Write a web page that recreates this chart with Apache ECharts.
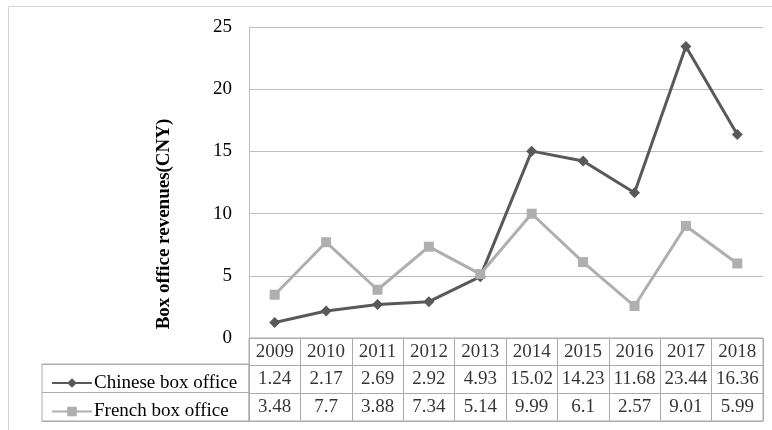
<!DOCTYPE html>
<html>
<head>
<meta charset="utf-8">
<script src="https://cdn.jsdelivr.net/npm/echarts@6/dist/echarts.min.js"></script>
<style>
html,body{margin:0;padding:0;background:#fff;}
#chart{width:772px;height:430px;}
</style>
</head>
<body>
<div id="chart"></div>
<script>
const years = ['2009','2010','2011','2012','2013','2014','2015','2016','2017','2018'];
const chineseBoxOffice = [1.24, 2.17, 2.69, 2.92, 4.93, 15.02, 14.23, 11.68, 23.44, 16.36];
const frenchBoxOffice = [3.48, 7.7, 3.88, 7.34, 5.14, 9.99, 6.1, 2.57, 9.01, 5.99];
const seriesNames = ['Chinese box office', 'French box office'];
const yTicks = {min: 0, max: 25, interval: 5};
const yTitle = 'Box office revenues(CNY)';

const FONT = 'Liberation Serif';
const TABLE_LINE = '#ababab';
const rows = ['year', 'chinese', 'french'];

const tableCells = [];
years.forEach((y, i) => {
  tableCells.push([y, 'year', y]);
  tableCells.push([y, 'chinese', String(chineseBoxOffice[i])]);
  tableCells.push([y, 'french', String(frenchBoxOffice[i])]);
});

const chart = echarts.init(document.getElementById('chart'), null, {renderer: 'canvas'});
chart.setOption({
  animation: false,
  backgroundColor: '#fff',
  textStyle: {fontFamily: FONT},
  graphic: [{
    type: 'rect', silent: true,
    shape: {x: 8.5, y: 6.5, width: 900, height: 600},
    style: {fill: 'none', stroke: '#d4d4d4', lineWidth: 1}
  }],
  grid: [
    {left: 249, top: 27, width: 514, height: 311},
    {left: 249, top: 338, width: 514, height: 83, show: true, borderColor: TABLE_LINE, borderWidth: 1},
    {left: 42, top: 364, width: 207, height: 57, show: true, borderColor: TABLE_LINE, borderWidth: 1},
    {left: 249, top: 27, width: 514, height: 394}
  ],
  xAxis: [
    {gridIndex: 0, type: 'category', data: years, boundaryGap: true,
     axisLine: {show: false}, axisTick: {show: false}, axisLabel: {show: false}, splitLine: {show: false}},
    {gridIndex: 1, type: 'category', data: years, boundaryGap: true,
     axisLine: {show: false}, axisTick: {show: false}, axisLabel: {show: false},
     splitLine: {show: true, interval: 0, lineStyle: {color: TABLE_LINE, width: 1}}},
    {gridIndex: 2, type: 'value', show: false, min: 0, max: 1},
    {gridIndex: 3, type: 'value', show: false, min: 0, max: 1}
  ],
  yAxis: [
    {gridIndex: 0, type: 'value', min: yTicks.min, max: yTicks.max, interval: yTicks.interval,
     axisLine: {show: true, lineStyle: {color: '#bdbdbd', width: 1}},
     axisTick: {show: false},
     axisLabel: {margin: 17, color: '#000', fontSize: 19, fontFamily: FONT},
     splitLine: {show: true, lineStyle: {color: '#bdbdbd', width: 1}}},
    {gridIndex: 1, type: 'category', data: rows, inverse: true,
     axisLine: {show: false}, axisTick: {show: false}, axisLabel: {show: false},
     splitLine: {show: true, interval: 0, lineStyle: {color: TABLE_LINE, width: 1}}},
    {gridIndex: 2, type: 'category', data: ['chinese', 'french'], inverse: true,
     axisLine: {show: false}, axisTick: {show: false}, axisLabel: {show: false},
     splitLine: {show: true, interval: 0, lineStyle: {color: TABLE_LINE, width: 1}}},
    {gridIndex: 3, type: 'value', min: 0, max: 1,
     axisLine: {show: false}, axisTick: {show: false}, axisLabel: {show: false}, splitLine: {show: false},
     name: yTitle, nameLocation: 'middle', nameRotate: 90, nameGap: 75,
     nameTextStyle: {fontFamily: FONT, fontSize: 19, fontWeight: 'bold', color: '#000'}}
  ],
  legend: {
    orient: 'vertical', left: 46, top: 368,
    itemWidth: 40, itemHeight: 12, itemGap: 8.5,
    textStyle: {fontFamily: FONT, fontSize: 19, color: '#000', lineHeight: 20, padding: [0,0,0,-3]},
    data: seriesNames
  },
  series: [
    {name: seriesNames[0], type: 'line', xAxisIndex: 0, yAxisIndex: 0, data: chineseBoxOffice,
     symbol: 'diamond', symbolSize: 11, showAllSymbol: true,
     lineStyle: {color: '#595959', width: 3}, itemStyle: {color: '#595959'}},
    {name: seriesNames[1], type: 'line', xAxisIndex: 0, yAxisIndex: 0, data: frenchBoxOffice,
     symbol: 'rect', symbolSize: 10, showAllSymbol: true,
     lineStyle: {color: '#afafaf', width: 3}, itemStyle: {color: '#afafaf'}},
    {type: 'scatter', xAxisIndex: 1, yAxisIndex: 1, data: tableCells, symbolSize: 0,
     silent: true,
     label: {show: true, position: 'inside', color: '#000', fontFamily: FONT, fontSize: 19,
             formatter: p => p.data[2]}}
  ]
});
</script>
</body>
</html>
